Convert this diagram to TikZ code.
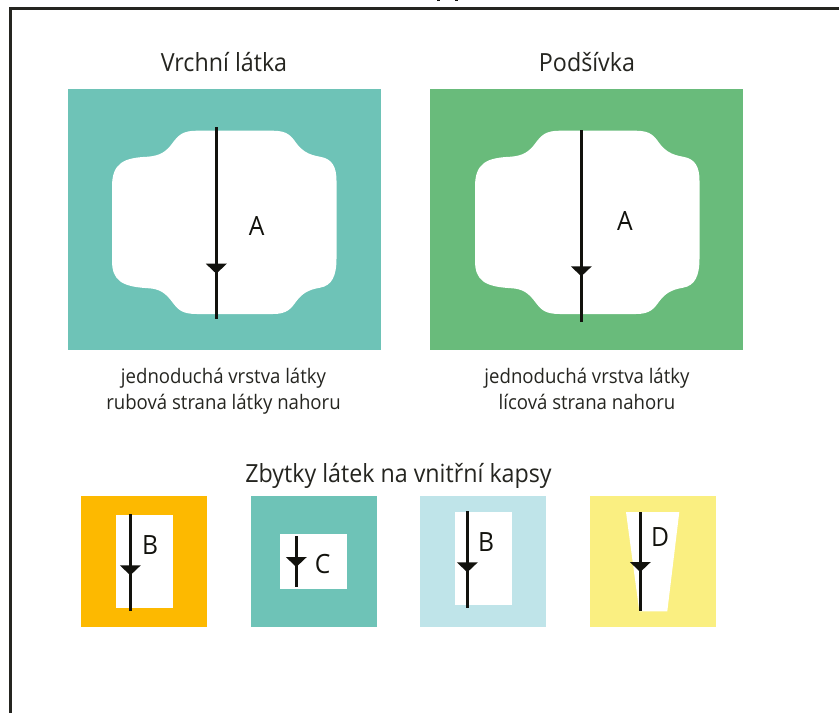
\documentclass[tikz,border=0pt]{standalone}
\usepackage{fontspec}
\setmainfont[FakeStretch=0.93]{Open Sans}
\definecolor{ink}{HTML}{12120D}
\definecolor{teal1}{HTML}{6EC3B7}
\definecolor{green1}{HTML}{69BB7B}
\definecolor{orange1}{HTML}{FDB900}
\definecolor{blue1}{HTML}{BFE4E9}
\definecolor{yellow1}{HTML}{FAEF81}
\tikzset{
  title/.style={anchor=base,inner sep=0pt,text=ink!92!white,font=\fontsize{25}{30}\selectfont},
  note/.style={anchor=base,inner sep=0pt,text=ink!92!white,font=\fontsize{20}{24}\selectfont},
  letter/.style={anchor=center,inner sep=0pt,text=ink,font=\fontsize{26.5}{32}\selectfont},
  grain/.style={draw=ink,line width=2.7pt},
  tip/.style={fill=ink},
  frameline/.style={draw=ink!92!white,line width=2.7pt,line join=miter}
}
% x, y top, y bottom, y of triangle top
\newcommand{\grainline}[4]{%
  \draw[grain] (#1,#2) -- (#1,#3);
  \fill[tip] (#1-10.5,#4) -- (#1+10.5,#4) -- (#1,#4+10) -- cycle;}
\newcommand{\cutshape}[1]{%
  \fill[white,shift={(#1,130.7)}]
    (84.7,0) .. controls (70,0) and (66,5) .. (60,13)
    .. controls (54,21) and (48,25) .. (36,26)
    .. controls (12,27) and (0,32) .. (0,56)
    -- (0,130)
    .. controls (0,150) and (10,156) .. (36,157.5)
    .. controls (48,158) and (54,163) .. (60,171)
    .. controls (66,179) and (70,183.3) .. (84.7,183.3)
    -- (161,183.3)
    .. controls (175,183.3) and (179,178) .. (184,171)
    .. controls (190,163) and (196,159) .. (208,157)
    .. controls (220,155) and (224.5,145) .. (224.5,128)
    -- (224.5,50)
    .. controls (224.5,36) and (220,28) .. (208,26)
    .. controls (196,24) and (190,20) .. (184,12)
    .. controls (179,5) and (175,0) .. (161,0)
    -- cycle;}
\begin{document}
\begin{tikzpicture}[x=1pt,y=-1pt]
\useasboundingbox (0,0) rectangle (839,713);
\fill[white] (0,0) rectangle (839,713);
% frame
\draw[frameline] (10.5,713) -- (10.5,8.5) -- (839,8.5);
\fill[ink] (437,0) rectangle (440,1);
\fill[ink] (455,0) rectangle (458,1);
% titles
\node[title] (t1) at (224,71) {Vrchní látka};
\node[title] (t2) at (587,71) {Podšívka};
% large pieces
\fill[teal1] (68,89) rectangle (381,350);
\cutshape{112}
\grainline{216.3}{127}{319}{263.7}
\node[letter] (a1) at (256.7,226) {A};
\fill[green1] (430,89) rectangle (743,350);
\cutshape{475}
\grainline{581.3}{130}{322}{266.3}
\node[letter] (a2) at (625,220.5) {A};
% notes
\node[note] (n1) at (223.5,383) {jednoduchá vrstva látky};
\node[note] (n2) at (223.5,409) {rubová strana látky nahoru};
\node[note] (n3) at (587,383) {jednoduchá vrstva látky};
\node[note] (n4) at (587,409) {lícová strana nahoru};
\node[title] (h) at (398.5,482) {Zbytky látek na vnitřní kapsy};
% scraps
\fill[orange1] (81,496) rectangle (207,627);
\fill[white] (116,515) rectangle (173,608);
\grainline{130.3}{514}{611}{565.3}
\node[letter] (b1) at (150,545.5) {B};
\fill[teal1] (251,496) rectangle (377,627);
\fill[white] (280,534) rectangle (347,589);
\grainline{296.3}{536}{587}{557}
\node[letter] (c) at (322.7,564) {C};
\fill[blue1] (420,496) rectangle (546,627);
\fill[white] (455,512) rectangle (512,605);
\grainline{467.3}{511}{608}{562.3}
\node[letter] (b2) at (486,542.5) {B};
\fill[yellow1] (590,496) rectangle (716,627);
\fill[white] (626,512) -- (679.3,512) -- (667.3,611.3) -- (639.3,611.3) -- cycle;
\grainline{640.3}{512}{610.7}{562}
\node[letter] (d) at (660,537.3) {D};
\end{tikzpicture}
\end{document}
